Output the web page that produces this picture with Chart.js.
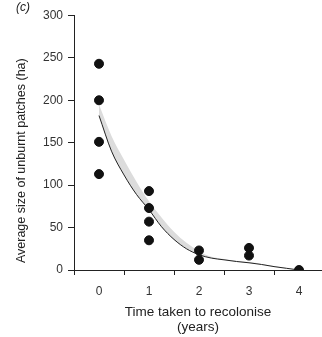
<!DOCTYPE html>
<html>
<head>
<meta charset="utf-8">
<script src="https://cdn.jsdelivr.net/npm/chart.js@4/dist/chart.umd.min.js"></script>
<style>
  html, body { margin: 0; padding: 0; background: #fff; overflow: hidden; }
</style>
</head>
<body>
<canvas id="myChart" width="322" height="337"></canvas>
<script>
// Observed patch sizes per recolonisation time
const years = [0, 0, 0, 0, 1, 1, 1, 1, 2, 2, 3, 3, 4];
const patchSizes = [243, 200, 151, 113, 93, 73, 57, 35, 23, 12, 26, 17, 0];

// Fitted curve and the upper edge of its shaded band
const curveX = [0, 0.25, 0.5, 0.75, 1, 1.25, 1.5, 1.75, 2, 2.25, 2.5, 2.75, 3, 3.25, 3.5, 3.75, 4];
const fitLine = [182, 140, 112, 89, 71, 51, 36, 25, 18, 14, 12, 10, 8.5, 6.5, 4, 2, 0];
const bandUpper = [195, 158, 130, 104, 81, 62, 45, 32, 22, 15.5, 13, 11, 9.3, 7.2, 4.6, 2.3, 0];

// Axis ticks
const xLabels = ['0', '1', '2', '3', '4'];
const xTickMarks = [-0.5, 0.5, 1.5, 2.5, 3.5];
const yTicks = [0, 50, 100, 150, 200, 250, 300];

const ink = '#222';
const fontFamily = '"Liberation Sans", Arial, Helvetica, sans-serif';
Chart.defaults.font.family = fontFamily;

const toPoints = (xs, ys) => xs.map((x, i) => ({ x: x, y: ys[i] }));

// label positions (0..4) plus the in-between tick marks
const xTickValues = xLabels.map(Number).concat(xTickMarks).sort((a, b) => a - b);

const ctx = document.getElementById('myChart').getContext('2d');
const myChart = new Chart(ctx, {
    type: 'scatter',
    data: {
        datasets: [
            {
                label: 'Patches',
                data: toPoints(years, patchSizes),
                backgroundColor: '#111',
                borderColor: '#111',
                pointRadius: 4.5,
                pointHoverRadius: 4.5
            },
            {
                label: 'Fit',
                type: 'line',
                data: toPoints(curveX, fitLine),
                borderColor: ink,
                borderWidth: 1,
                pointRadius: 0,
                cubicInterpolationMode: 'monotone',
                fill: false
            },
            {
                label: 'Band',
                type: 'line',
                data: toPoints(curveX, bandUpper),
                borderWidth: 0,
                borderColor: 'rgba(0,0,0,0)',
                backgroundColor: '#dcdcdc',
                pointRadius: 0,
                cubicInterpolationMode: 'monotone',
                fill: '-1'
            }
        ]
    },
    options: {
        responsive: false,
        animation: false,
        layout: { autoPadding: false, padding: { left: 16, right: 0, top: 0, bottom: 0 } },
        plugins: {
            legend: { display: false },
            tooltip: { enabled: false },
            title: {
                display: true,
                text: '(c)',
                align: 'start',
                color: ink,
                font: { size: 12, style: 'italic', weight: 'normal' },
                padding: { top: 0, bottom: 1 }
            }
        },
        scales: {
            x: {
                type: 'linear',
                min: -0.5,
                max: 4.46,
                afterBuildTicks: (scale) => {
                    scale.ticks = xTickValues.map(v => ({ value: v }));
                },
                afterFit: (scale) => { scale.height = 67; },
                ticks: {
                    autoSkip: false,
                    maxRotation: 0,
                    padding: 9,
                    color: '#333',
                    font: { size: 12 },
                    callback: (value) => Number.isInteger(value) ? xLabels[value] : ''
                },
                grid: {
                    drawOnChartArea: false,
                    tickLength: 5,
                    tickColor: (c) => Number.isInteger(c.tick.value) ? 'rgba(0,0,0,0)' : ink
                },
                border: { color: ink, width: 1 },
                title: {
                    display: true,
                    text: ['Time taken to recolonise', '(years)'],
                    color: ink,
                    font: { size: 13.5, lineHeight: 1.05 },
                    padding: { top: 0, bottom: 3 }
                }
            },
            y: {
                min: 0,
                max: 300,
                afterBuildTicks: (scale) => {
                    scale.ticks = yTicks.map(v => ({ value: v }));
                },
                afterFit: (scale) => { scale.width = 58; },
                ticks: {
                    padding: 5,
                    color: '#333',
                    font: { size: 12 }
                },
                grid: {
                    drawOnChartArea: false,
                    tickLength: 6,
                    tickColor: ink
                },
                border: { color: ink, width: 1 },
                title: {
                    display: true,
                    // anchored at the bottom, nudged up a little by the leading spaces
                    text: '  Average size of unburnt patches (ha)',
                    align: 'start',
                    color: ink,
                    font: { size: 12.5 },
                    // negative offset pulls the title left of the padded box edge
                    padding: { top: -1.5, bottom: 0 }
                }
            }
        }
    }
});
</script>
</body>
</html>
